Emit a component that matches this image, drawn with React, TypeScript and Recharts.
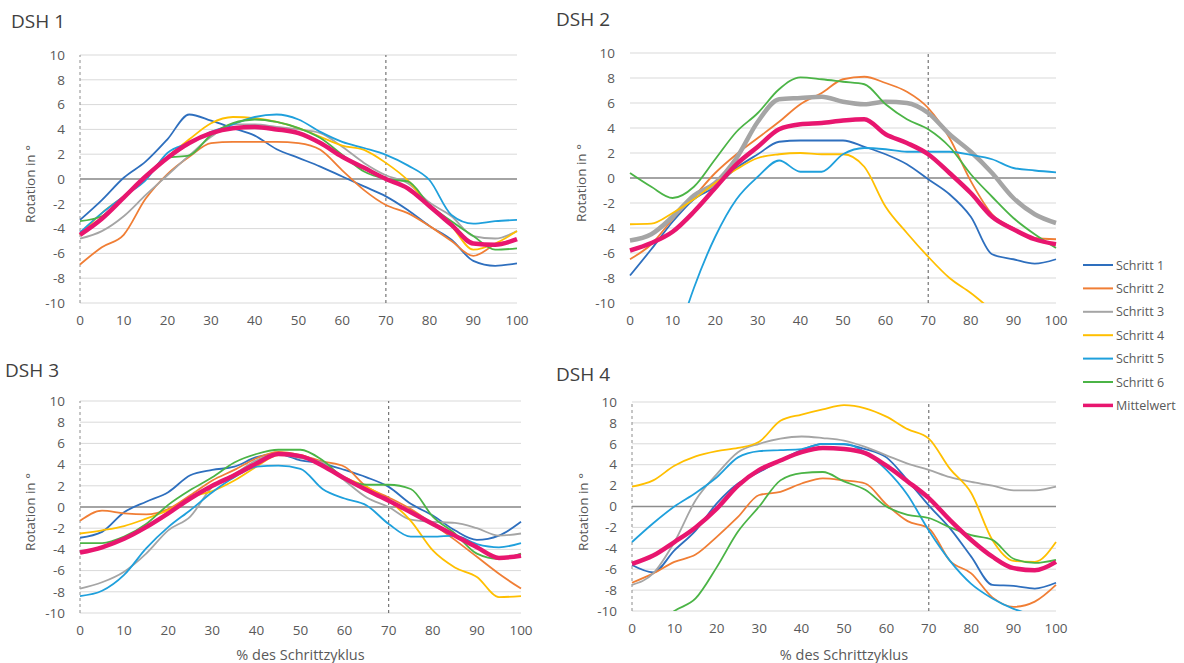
import React from 'react';
import { LineChart, Line, XAxis, YAxis, CartesianGrid, ReferenceLine } from 'recharts';

// Gait cycle positions (% des Schrittzyklus)
const pct = [0, 5, 10, 15, 20, 25, 30, 35, 40, 45, 50, 55, 60, 65, 70, 75, 80, 85, 90, 95, 100];

const seriesNames = ['Schritt 1', 'Schritt 2', 'Schritt 3', 'Schritt 4', 'Schritt 5', 'Schritt 6', 'Mittelwert'];
const seriesColors = ['#2E6FBE', '#F07E35', '#A5A5A5', '#FFBF00', '#1FA0DC', '#4BB446', '#E8166F'];

const xTicks = [0, 10, 20, 30, 40, 50, 60, 70, 80, 90, 100];
const yTicks = [-10, -8, -6, -4, -2, 0, 2, 4, 6, 8, 10];
const panelTitles = ['DSH 1', 'DSH 2', 'DSH 3', 'DSH 4'];
const yAxisTitle = 'Rotation in °';
const xAxisTitle = '% des Schrittzyklus';

// DSH 1
const dsh1Schritt1 = [-3.3, -1.7, 0.1, 1.4, 3.2, 5.2, 4.7, 4.1, 3.5, 2.4, 1.7, 1.0, 0.2, -0.6, -1.4, -2.5, -3.8, -4.9, -6.6, -7.0, -6.8];
const dsh1Schritt2 = [-6.9, -5.5, -4.5, -1.6, 0.4, 1.8, 2.9, 3.0, 3.0, 3.0, 2.9, 2.35, 0.7, -0.9, -2.1, -2.75, -3.8, -5.0, -6.2, -5.3, -4.9];
const dsh1Schritt3 = [-4.8, -4.2, -3.0, -1.3, 0.3, 1.9, 3.4, 4.4, 4.4, 4.2, 4.0, 3.7, 2.6, 1.3, 0.3, -0.35, -1.9, -3.0, -4.6, -4.8, -4.2];
const dsh1Schritt4 = [-4.5, -2.75, -1.4, 0.1, 1.8, 3.2, 4.5, 5.0, 4.9, 4.6, 4.1, 3.4, 2.7, 2.35, 1.3, -0.1, -2.2, -3.8, -5.7, -5.2, -4.2];
const dsh1Schritt5 = [-4.3, -2.75, -1.4, -0.1, 2.1, 2.9, 3.8, 4.4, 5.0, 5.2, 4.8, 3.8, 3.0, 2.5, 1.95, 1.1, -0.1, -2.9, -3.6, -3.4, -3.3];
const dsh1Schritt6 = [-3.4, -3.0, -1.4, 0.2, 1.7, 1.9, 3.55, 4.5, 4.8, 4.6, 4.1, 3.3, 1.95, 0.6, 0, -0.2, -2.1, -3.4, -4.6, -5.7, -5.6];
const dsh1Mittelwert = [-4.5, -3.2, -1.5, 0.2, 1.7, 2.9, 3.7, 4.1, 4.2, 4.0, 3.7, 2.9, 1.8, 0.9, 0, -0.75, -2.2, -3.7, -5.2, -5.3, -4.85];

// DSH 2
const dsh2Schritt1 = [-7.8, -5.7, -3.5, -1.7, -0.7, 0.8, 1.9, 2.9, 3.0, 3.0, 3.0, 2.5, 1.9, 1.1, -0.1, -1.3, -3.1, -6.1, -6.5, -6.85, -6.5];
const dsh2Schritt2 = [-6.5, -5.3, -3.3, -1.5, 0.4, 1.9, 3.2, 4.5, 5.9, 6.8, 7.9, 8.1, 7.6, 6.9, 5.6, 3.2, -0.25, -2.9, -4.0, -4.8, -4.9];
const dsh2Schritt3 = [-5.0, -4.5, -3.1, -1.4, -0.4, 1.6, 4.5, 6.3, 6.4, 6.5, 6.1, 5.9, 6.1, 6.0, 5.2, 3.5, 2.1, 0.4, -1.6, -2.9, -3.6];
const dsh2Schritt4 = [-3.7, -3.65, -2.8, -1.7, -0.4, 0.7, 1.6, 1.9, 2.0, 1.9, 1.9, 0.9, -2.3, -4.4, -6.3, -8.0, -9.2, -10.6, null, null, null];
const dsh2Schritt5 = [null, null, -14.0, -8.8, -4.7, -1.7, 0.1, 1.4, 0.5, 0.5, 1.9, 2.4, 2.3, 2.1, 2.1, 2.1, 1.85, 1.5, 0.8, 0.6, 0.45];
const dsh2Schritt6 = [0.4, -0.7, -1.6, -0.7, 1.5, 3.7, 5.2, 7.1, 8.05, 7.9, 7.7, 7.5, 5.9, 4.7, 3.9, 2.5, 0.3, -1.5, -3.2, -4.5, -5.6];
const dsh2Mittelwert = [-5.8, -5.2, -4.3, -2.7, -0.8, 1.1, 2.5, 3.9, 4.3, 4.4, 4.6, 4.7, 3.5, 2.8, 1.9, 0.4, -1.2, -3.1, -4.1, -4.9, -5.3];

// DSH 3
const dsh3Schritt1 = [-2.9, -2.35, -0.5, 0.5, 1.4, 3.0, 3.5, 3.8, 4.7, 5.0, 4.4, 4.1, 3.5, 2.8, 1.9, 0.3, -0.8, -2.2, -3.1, -2.7, -1.4];
const dsh3Schritt2 = [-1.3, -0.35, -0.6, -0.7, -0.2, 1.1, 2.5, 3.5, 4.6, 5.2, 4.9, 4.3, 3.8, 1.9, 0.9, -0.2, -1.6, -3.1, -4.7, -6.3, -7.7];
const dsh3Schritt3 = [-7.7, -7.1, -6.1, -4.4, -2.2, -0.9, 1.9, 3.1, 4.4, 5.0, 4.6, 4.2, 2.5, 0.9, 0, -1.2, -1.4, -1.5, -2.0, -2.7, -2.5];
const dsh3Schritt4 = [-2.5, -2.2, -1.8, -1.1, -0.3, 0.9, 1.5, 2.5, 3.8, 4.9, 4.9, 3.9, 2.8, 1.9, 0.6, -1.3, -4.1, -5.7, -6.6, -8.5, -8.4];
const dsh3Schritt5 = [-8.4, -7.9, -6.4, -3.9, -1.9, -0.3, 1.4, 2.8, 3.8, 3.9, 3.6, 1.7, 0.8, 0.15, -1.6, -2.8, -2.8, -2.7, -3.5, -3.8, -3.4];
const dsh3Schritt6 = [-3.4, -3.4, -2.8, -1.6, 0.2, 1.6, 2.8, 4.2, 5.0, 5.4, 5.4, 4.4, 2.7, 2.1, 2.1, 1.7, -0.9, -2.5, -4.4, -4.9, -4.4];
const dsh3Mittelwert = [-4.3, -3.8, -3.0, -1.9, -0.6, 0.8, 2.0, 3.0, 4.1, 5.0, 4.8, 3.9, 2.7, 1.6, 0.6, -0.5, -1.6, -2.7, -3.8, -4.8, -4.6];

// DSH 4
const dsh4Schritt1 = [-5.6, -6.3, -4.2, -2.3, 0.3, 2.2, 3.3, 4.4, 5.4, 6.0, 5.95, 5.5, 4.7, 2.5, 0.1, -2.1, -4.8, -7.5, -7.6, -7.85, -7.3];
const dsh4Schritt2 = [-7.3, -6.4, -5.3, -4.6, -2.9, -1.0, 1.1, 1.4, 2.2, 2.7, 2.5, 2.2, 0.2, -1.4, -2.1, -5.2, -6.4, -8.7, -9.6, -9.1, -7.5];
const dsh4Schritt3 = [-7.5, -6.4, -3.4, 0.6, 3.1, 5.2, 6.0, 6.5, 6.7, 6.55, 6.3, 5.7, 4.9, 4.1, 3.5, 2.8, 2.35, 2.0, 1.55, 1.55, 1.9];
const dsh4Schritt4 = [1.9, 2.5, 3.9, 4.8, 5.3, 5.6, 6.2, 8.2, 8.8, 9.3, 9.7, 9.4, 8.6, 7.4, 6.5, 3.6, 1.3, -3.2, -5.2, -5.3, -3.4];
const dsh4Schritt5 = [-3.4, -1.6, 0, 1.3, 2.8, 4.7, 5.3, 5.4, 5.5, 6.0, 6.0, 5.2, 3.5, 1.1, -2.3, -5.2, -7.4, -8.8, -9.8, -10.4, null];
const dsh4Schritt6 = [null, -11.6, -10.0, -8.8, -5.8, -2.4, 0, 2.5, 3.2, 3.3, 2.4, 1.6, 0, -0.8, -1.1, -2.0, -2.75, -3.2, -5.0, -5.4, -5.1];
const dsh4Mittelwert = [-5.5, -4.7, -3.4, -2.0, -0.2, 2.0, 3.5, 4.4, 5.2, 5.6, 5.5, 5.1, 3.9, 2.4, 0.8, -1.3, -3.2, -4.8, -5.9, -6.1, -5.3];

type Series = (number | null)[];
type Box = { x0: number; x1: number; y0: number; y1: number };

const FONT = '"Open Sans", "DejaVu Sans", sans-serif';
const TEXT = '#595959';

const panels: {
  title: string;
  series: Series[];
  box: Box;
  leftDash: boolean;
  thick: number[];
  titlePos: [number, number];
  yTitlePos: [number, number];
  xTitle: boolean;
}[] = [
  {
    title: panelTitles[0],
    series: [dsh1Schritt1, dsh1Schritt2, dsh1Schritt3, dsh1Schritt4, dsh1Schritt5, dsh1Schritt6, dsh1Mittelwert],
    box: { x0: 80, x1: 517, y0: 55, y1: 303 },
    leftDash: true,
    thick: [6],
    titlePos: [11, 27.5],
    yTitlePos: [30, 184],
    xTitle: false,
  },
  {
    title: panelTitles[1],
    series: [dsh2Schritt1, dsh2Schritt2, dsh2Schritt3, dsh2Schritt4, dsh2Schritt5, dsh2Schritt6, dsh2Mittelwert],
    box: { x0: 630, x1: 1056, y0: 53, y1: 303 },
    leftDash: false,
    thick: [2, 6],
    titlePos: [556, 25.5],
    yTitlePos: [581, 183],
    xTitle: false,
  },
  {
    title: panelTitles[2],
    series: [dsh3Schritt1, dsh3Schritt2, dsh3Schritt3, dsh3Schritt4, dsh3Schritt5, dsh3Schritt6, dsh3Mittelwert],
    box: { x0: 80, x1: 521, y0: 401, y1: 613 },
    leftDash: true,
    thick: [6],
    titlePos: [5, 377],
    yTitlePos: [30, 512],
    xTitle: true,
  },
  {
    title: panelTitles[3],
    series: [dsh4Schritt1, dsh4Schritt2, dsh4Schritt3, dsh4Schritt4, dsh4Schritt5, dsh4Schritt6, dsh4Mittelwert],
    box: { x0: 632, x1: 1056, y0: 402, y1: 611 },
    leftDash: true,
    thick: [6],
    titlePos: [556, 380.5],
    yTitlePos: [583, 512],
    xTitle: true,
  },
];

function buildRows(series: Series[]) {
  return pct.map((p, i) => {
    const row: Record<string, number | null> = { p };
    series.forEach((s, k) => {
      row['s' + k] = s[i];
    });
    return row;
  });
}

const RIGHT_PAD = 24;

function Panel({ series, box, leftDash, thick }: { series: Series[]; box: Box; leftDash: boolean; thick: number[] }) {
  const rows = buildRows(series);
  const width = box.x1 - box.x0 + 60 + RIGHT_PAD;
  const height = box.y1 - box.y0 + 50;
  const tickStyle = { fill: TEXT, fontSize: 13.5, fontFamily: FONT };
  return (
    <div style={{ position: 'absolute', left: box.x0 - 60, top: box.y0 - 10 }}>
      <LineChart width={width} height={height} data={rows} margin={{ top: 10, right: RIGHT_PAD, bottom: 0, left: 0 }}>
        <CartesianGrid vertical={false} stroke="#D9D9D9" strokeWidth={1} />
        <XAxis
          dataKey="p"
          type="number"
          domain={[0, 100]}
          ticks={xTicks}
          interval={0}
          axisLine={false}
          tickLine={false}
          tickMargin={6}
          height={40}
          tick={tickStyle}
        />
        <YAxis
          type="number"
          domain={[-10, 10]}
          ticks={yTicks}
          interval={0}
          allowDataOverflow
          width={60}
          axisLine={false}
          tickLine={false}
          tickMargin={9}
          tick={tickStyle}
        />
        <ReferenceLine y={0} stroke="#8C8C8C" strokeWidth={1.4} />
        {leftDash && <ReferenceLine x={0} stroke="#8C8C8C" strokeDasharray="3 3" />}
        <ReferenceLine x={70} stroke="#595959" strokeDasharray="3 3" />
        {series.map((_, k) => (
          <Line
            key={k}
            name={seriesNames[k]}
            dataKey={'s' + k}
            type="monotone"
            stroke={seriesColors[k]}
            strokeWidth={thick.includes(k) ? 4.5 : 1.8}
            dot={false}
            activeDot={false}
            isAnimationActive={false}
          />
        ))}
      </LineChart>
    </div>
  );
}

export default function App() {
  return (
    <div
      style={{
        position: 'absolute',
        left: 0,
        top: 0,
        width: 1184,
        height: 663,
        background: '#ffffff',
        overflow: 'hidden',
        fontFamily: FONT,
      }}
    >
      {panels.map((pnl, i) => (
        <Panel key={i} series={pnl.series} box={pnl.box} leftDash={pnl.leftDash} thick={pnl.thick} />
      ))}
      <svg
        width={1184}
        height={663}
        style={{ position: 'absolute', left: 0, top: 0, pointerEvents: 'none' }}
      >
        {panels.map((pnl, i) => (
          <g key={i}>
            <text x={pnl.titlePos[0]} y={pnl.titlePos[1]} fontSize={19} fill="#404040" fontFamily={FONT}>
              {pnl.title}
            </text>
            <text
              x={pnl.yTitlePos[0]}
              y={pnl.yTitlePos[1]}
              fontSize={13.5}
              fill={TEXT}
              fontFamily={FONT}
              textAnchor="middle"
              dominantBaseline="central"
              transform={`rotate(-90 ${pnl.yTitlePos[0]} ${pnl.yTitlePos[1]})`}
            >
              {yAxisTitle}
            </text>
            {pnl.xTitle && (
              <text
                x={(pnl.box.x0 + pnl.box.x1) / 2}
                y={659.5}
                fontSize={14.5}
                fill={TEXT}
                fontFamily={FONT}
                textAnchor="middle"
              >
                {xAxisTitle}
              </text>
            )}
          </g>
        ))}
        {seriesNames.map((name, k) => {
          const y = 265 + k * 23.4;
          return (
            <g key={name}>
              <line
                x1={1083}
                x2={1113}
                y1={y}
                y2={y}
                stroke={seriesColors[k]}
                strokeWidth={k === 6 ? 3.5 : 2}
              />
              <text x={1116} y={y} fontSize={12.5} fill={TEXT} fontFamily={FONT} dominantBaseline="central">
                {name}
              </text>
            </g>
          );
        })}
      </svg>
    </div>
  );
}
